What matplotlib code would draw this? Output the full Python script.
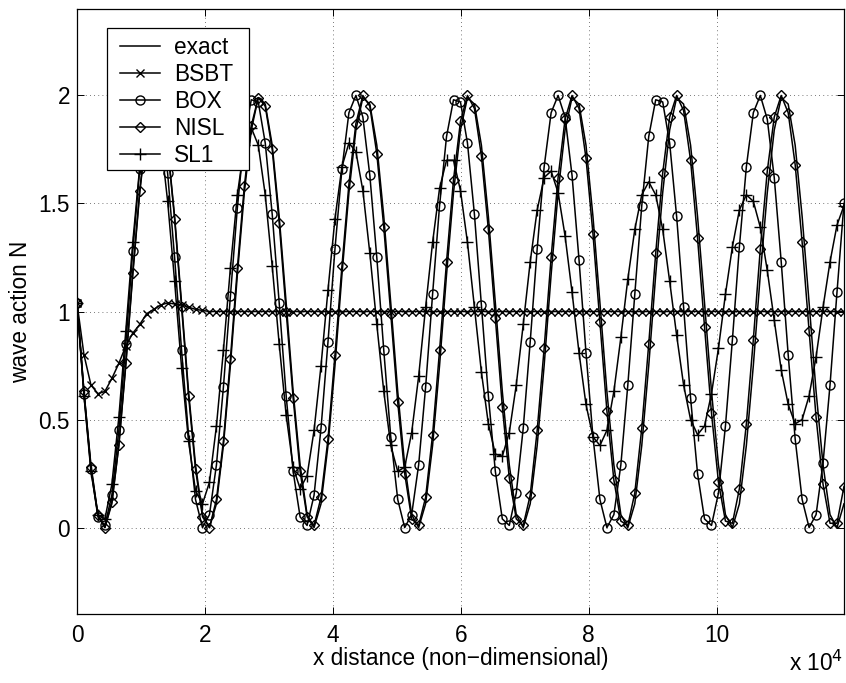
import numpy as np
import matplotlib
matplotlib.use("Agg")
import matplotlib.pyplot as plt
from matplotlib.patches import Rectangle
from matplotlib.ticker import FuncFormatter

plt.rcParams['font.family'] = ['Liberation Sans', 'DejaVu Sans']

# grid of the solution (every sample carries a marker)
dx = 1090.0
x = np.arange(111) * dx

# values, one per grid point
exact = [1.04, 0.63, 0.29, 0.06, 0.00, 0.11, 0.38, 0.75, 1.17, 1.55, 1.84, 1.99, 1.96, 1.77, 1.44,
         1.04, 0.63, 0.29, 0.06, 0.00, 0.11, 0.38, 0.75, 1.17, 1.55, 1.84, 1.99, 1.96, 1.77, 1.44,
         1.04, 0.63, 0.29, 0.06, 0.00, 0.11, 0.38, 0.75, 1.17, 1.55, 1.84, 1.99, 1.96, 1.77, 1.44,
         1.04, 0.63, 0.29, 0.06, 0.00, 0.11, 0.38, 0.75, 1.17, 1.55, 1.84, 1.99, 1.96, 1.77, 1.44,
         1.04, 0.63, 0.29, 0.06, 0.00, 0.11, 0.38, 0.75, 1.17, 1.55, 1.84, 1.99, 1.96, 1.77, 1.44,
         1.04, 0.63, 0.29, 0.06, 0.00, 0.11, 0.38, 0.75, 1.17, 1.55, 1.84, 1.99, 1.96, 1.77, 1.44,
         1.04, 0.63, 0.29, 0.06, 0.00, 0.11, 0.38, 0.75, 1.17, 1.55, 1.84, 1.99, 1.96, 1.77, 1.44,
         1.04, 0.63, 0.29, 0.06, 0.00, 0.11]

bsbt = [1.04, 0.80, 0.66, 0.62, 0.63, 0.69, 0.76, 0.84, 0.90, 0.94, 0.99, 1.01, 1.03, 1.04, 1.035,
        1.03, 1.02, 1.01, 1.005, 1.00, 1.00, 1.00, 1.00, 1.00, 1.00, 1.00, 1.00, 1.00, 1.00, 1.00,
        1.00, 1.00, 1.00, 1.00, 1.00, 1.00, 1.00, 1.00, 1.00, 1.00, 1.00, 1.00, 1.00, 1.00, 1.00,
        1.00, 1.00, 1.00, 1.00, 1.00, 1.00, 1.00, 1.00, 1.00, 1.00, 1.00, 1.00, 1.00, 1.00, 1.00,
        1.00, 1.00, 1.00, 1.00, 1.00, 1.00, 1.00, 1.00, 1.00, 1.00, 1.00, 1.00, 1.00, 1.00, 1.00,
        1.00, 1.00, 1.00, 1.00, 1.00, 1.00, 1.00, 1.00, 1.00, 1.00, 1.00, 1.00, 1.00, 1.00, 1.00,
        1.00, 1.00, 1.00, 1.00, 1.00, 1.00, 1.00, 1.00, 1.00, 1.00, 1.00, 1.00, 1.00, 1.00, 1.00,
        1.00, 1.00, 1.00, 1.00, 1.00, 1.00]

box = [1.04, 0.62, 0.27, 0.05, 0.01, 0.15, 0.45, 0.85, 1.28, 1.66, 1.91, 2.00, 1.90, 1.64, 1.25,
       0.82, 0.43, 0.13, 0.00, 0.06, 0.29, 0.65, 1.07, 1.48, 1.81, 1.98, 1.97, 1.78, 1.45, 1.04,
       0.61, 0.26, 0.05, 0.01, 0.15, 0.46, 0.86, 1.29, 1.66, 1.92, 2.00, 1.90, 1.63, 1.25, 0.82,
       0.42, 0.13, 0.00, 0.06, 0.29, 0.65, 1.08, 1.49, 1.81, 1.98, 1.97, 1.78, 1.45, 1.03, 0.61,
       0.26, 0.04, 0.01, 0.16, 0.46, 0.86, 1.29, 1.67, 1.92, 2.00, 1.90, 1.63, 1.24, 0.81, 0.42,
       0.13, 0.00, 0.06, 0.29, 0.66, 1.08, 1.49, 1.81, 1.98, 1.97, 1.78, 1.44, 1.02, 0.60, 0.25,
       0.04, 0.01, 0.16, 0.47, 0.87, 1.30, 1.67, 1.92, 2.00, 1.89, 1.62, 1.23, 0.80, 0.41, 0.13,
       0.00, 0.06, 0.30, 0.66, 1.09, 1.50]

nisl = [1.04, 0.63, 0.28, 0.06, 0.00, 0.12, 0.38, 0.76, 1.18, 1.56, 1.85, 1.99, 1.96, 1.76, 1.43,
        1.02, 0.61, 0.27, 0.05, 0.00, 0.13, 0.40, 0.78, 1.20, 1.58, 1.86, 1.99, 1.95, 1.75, 1.41,
        1.00, 0.60, 0.26, 0.05, 0.01, 0.14, 0.41, 0.80, 1.21, 1.59, 1.87, 2.00, 1.95, 1.73, 1.39,
        0.99, 0.58, 0.25, 0.04, 0.01, 0.14, 0.43, 0.82, 1.23, 1.61, 1.88, 2.00, 1.94, 1.72, 1.38,
        0.97, 0.56, 0.23, 0.04, 0.01, 0.15, 0.45, 0.83, 1.25, 1.62, 1.89, 2.00, 1.94, 1.71, 1.36,
        0.95, 0.54, 0.22, 0.03, 0.01, 0.16, 0.46, 0.85, 1.27, 1.64, 1.90, 2.00, 1.93, 1.70, 1.34,
        0.93, 0.53, 0.21, 0.03, 0.02, 0.18, 0.48, 0.87, 1.29, 1.65, 1.90, 2.00, 1.92, 1.68, 1.32,
        0.91, 0.51, 0.20, 0.02, 0.02, 0.19]

sl1 = [1.04, 0.61, 0.26, 0.06, 0.04, 0.20, 0.51, 0.91, 1.32, 1.67, 1.88, 1.93, 1.80, 1.51, 1.14,
       0.74, 0.40, 0.17, 0.11, 0.21, 0.47, 0.82, 1.20, 1.54, 1.77, 1.85, 1.77, 1.54, 1.21, 0.85,
       0.52, 0.28, 0.18, 0.24, 0.45, 0.75, 1.10, 1.43, 1.67, 1.78, 1.74, 1.56, 1.27, 0.94, 0.63,
       0.38, 0.26, 0.28, 0.44, 0.70, 1.02, 1.32, 1.57, 1.70, 1.70, 1.56, 1.32, 1.02, 0.72, 0.48,
       0.34, 0.33, 0.44, 0.66, 0.94, 1.23, 1.47, 1.62, 1.65, 1.55, 1.35, 1.09, 0.81, 0.57, 0.42,
       0.38, 0.45, 0.63, 0.88, 1.15, 1.38, 1.54, 1.60, 1.54, 1.38, 1.14, 0.89, 0.66, 0.50, 0.43,
       0.47, 0.62, 0.83, 1.08, 1.30, 1.47, 1.54, 1.51, 1.39, 1.19, 0.96, 0.73, 0.57, 0.48, 0.50,
       0.61, 0.79, 1.02, 1.23, 1.40, 1.49]

fs = 16.3

fig = plt.figure(figsize=(8.46, 6.83), dpi=100)
ax = fig.add_axes([0.0910, 0.1010, 0.9066, 0.8858])

lw = 1.1
ax.plot(x, exact, '-', color='k', lw=lw, label='exact')
ax.plot(x, bsbt, '-x', color='k', lw=lw, ms=5.5, mew=1.0, label='BSBT')
ax.plot(x, box, '-o', color='k', lw=lw, ms=6.5, mew=1.0, mfc='none', label='BOX')
ax.plot(x, nisl, '-D', color='k', lw=lw, ms=5, mew=1.0, mfc='none', label='NISL')
ax.plot(x, sl1, '-+', color='k', lw=lw, ms=8, mew=1.0, label='SL1')

ax.set_xlim(0, x[-1])
ax.set_ylim(-0.4, 2.4)
ax.set_xticks([0, 20000, 40000, 60000, 80000, 100000])
ax.xaxis.set_major_formatter(FuncFormatter(lambda v, p: '%g' % (v / 1e4)))
ax.set_yticks([0, 0.5, 1, 1.5, 2])
ax.yaxis.set_major_formatter(FuncFormatter(lambda v, p: '%g' % v))

ax.grid(True, color='0.3', linestyle=(0, (1, 4)), lw=0.6)
ax.tick_params(direction='in', top=True, right=True, length=5, width=0.7, labelsize=fs)
ax.tick_params(axis='x', pad=7)
ax.tick_params(axis='y', pad=5)
for s in ax.spines.values():
    s.set_linewidth(0.9)

ax.set_xlabel('x distance (non\u2212dimensional)', fontsize=fs, labelpad=0)
ax.set_ylabel('wave action N', fontsize=fs)
ax.yaxis.set_label_coords(-0.058, 0.5)
fig.text(843 / 846, 0.010, r'x 10$^{4}$', fontsize=fs, ha='right', va='bottom')

# legend box drawn separately so its size can follow the original
ax.add_patch(Rectangle((0.0391, 0.7339), 0.1851, 0.2347, transform=ax.transAxes,
                       facecolor='white', edgecolor='k', lw=0.9, zorder=4.5))
leg = ax.legend(loc='upper left', bbox_to_anchor=(0.0561, 0.9554), borderaxespad=0,
                fontsize=fs, handlelength=1.77, handletextpad=0.62, labelspacing=0.18,
                borderpad=0, frameon=False)
leg.set_zorder(5)

fig.savefig('out.png', dpi=100)
